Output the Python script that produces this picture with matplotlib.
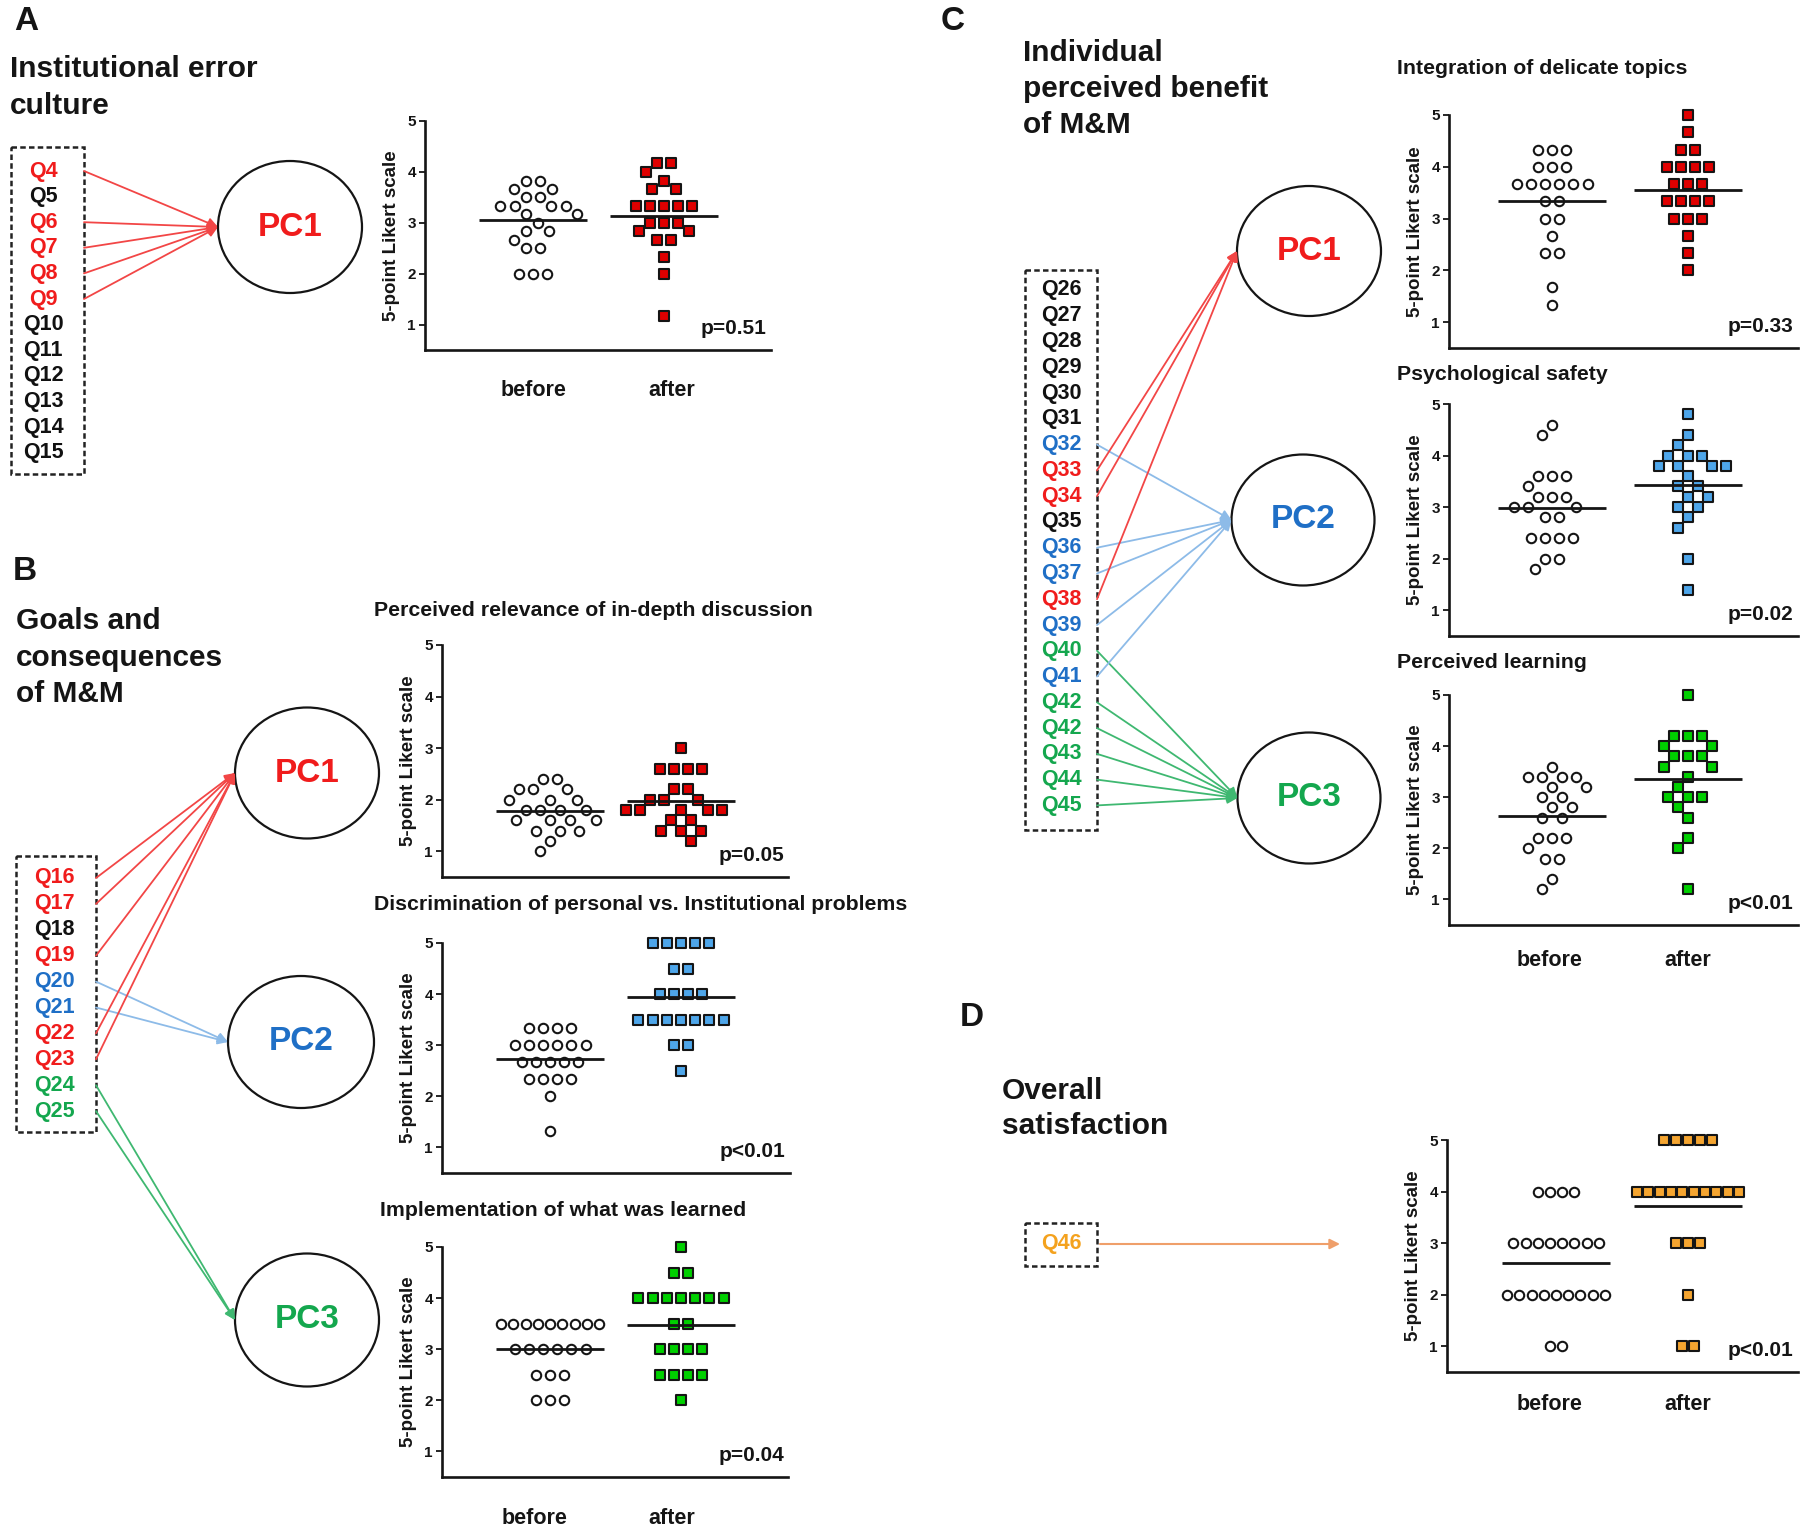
import matplotlib
matplotlib.use('Agg')
import matplotlib.pyplot as plt
from matplotlib.patches import Ellipse, Rectangle
import numpy as np

plt.rcParams['font.family'] = ['Liberation Sans', 'DejaVu Sans']
plt.rcParams['font.weight'] = 'bold'

# ---------------- data ----------------
A_before = [3.83, 3.83, 3.67, 3.67, 3.5, 3.5, 3.33, 3.33, 3.33, 3.33, 3.17, 3.17,
            3.0, 2.83, 2.83, 2.67, 2.5, 2.5, 2.0, 2.0, 2.0]
A_after = [4.17, 4.17, 4.0, 3.83, 3.67, 3.67, 3.33, 3.33, 3.33, 3.33, 3.33, 3.0,
           3.0, 3.0, 2.83, 2.83, 2.67, 2.67, 2.33, 2.0, 1.17]
B1_before = [2.4, 2.4, 2.2, 2.2, 2.2, 2.0, 2.0, 2.0, 1.8, 1.8, 1.8, 1.8, 1.6, 1.6,
             1.6, 1.6, 1.4, 1.4, 1.4, 1.2, 1.0]
B1_after = [3.0, 2.6, 2.6, 2.6, 2.6, 2.2, 2.2, 2.0, 2.0, 2.0, 1.8, 1.8, 1.8, 1.8,
            1.8, 1.6, 1.6, 1.4, 1.4, 1.4, 1.2]
B2_before = [3.33, 3.33, 3.33, 3.33, 3.0, 3.0, 3.0, 3.0, 3.0, 3.0, 2.67, 2.67, 2.67,
             2.67, 2.67, 2.33, 2.33, 2.33, 2.33, 2.0, 1.33]
B2_after = [5.0, 5.0, 5.0, 5.0, 5.0, 4.5, 4.5, 4.0, 4.0, 4.0, 4.0, 3.5, 3.5, 3.5,
            3.5, 3.5, 3.5, 3.5, 3.0, 3.0, 2.5]
B3_before = [3.5, 3.5, 3.5, 3.5, 3.5, 3.5, 3.5, 3.5, 3.5, 3.0, 3.0, 3.0, 3.0, 3.0,
             3.0, 2.5, 2.5, 2.5, 2.0, 2.0, 2.0]
B3_after = [5.0, 4.5, 4.5, 4.0, 4.0, 4.0, 4.0, 4.0, 4.0, 4.0, 3.5, 3.5, 3.0, 3.0,
            3.0, 3.0, 2.5, 2.5, 2.5, 2.5, 2.0]
C1_before = [4.33, 4.33, 4.33, 4.0, 4.0, 4.0, 3.67, 3.67, 3.67, 3.67, 3.67, 3.67,
             3.33, 3.33, 3.0, 3.0, 2.67, 2.33, 2.33, 1.67, 1.33]
C1_after = [5.0, 4.67, 4.33, 4.33, 4.0, 4.0, 4.0, 4.0, 3.67, 3.67, 3.67, 3.33, 3.33,
            3.33, 3.33, 3.0, 3.0, 3.0, 2.67, 2.33, 2.0]
C2_before = [4.6, 4.4, 3.6, 3.6, 3.6, 3.4, 3.2, 3.2, 3.2, 3.0, 3.0, 3.0, 2.8, 2.8,
             2.4, 2.4, 2.4, 2.4, 2.0, 2.0, 1.8]
C2_after = [4.8, 4.4, 4.2, 4.0, 4.0, 4.0, 3.8, 3.8, 3.8, 3.8, 3.6, 3.4, 3.4, 3.2,
            3.2, 3.0, 3.0, 2.8, 2.6, 2.0, 1.4]
C3_before = [3.6, 3.4, 3.4, 3.4, 3.4, 3.2, 3.2, 3.0, 3.0, 2.8, 2.8, 2.6, 2.6, 2.2,
             2.2, 2.2, 2.0, 1.8, 1.8, 1.4, 1.2]
C3_after = [5.0, 4.2, 4.2, 4.2, 4.0, 4.0, 3.8, 3.8, 3.8, 3.6, 3.6, 3.4, 3.2, 3.0,
            3.0, 3.0, 2.8, 2.6, 2.2, 2.0, 1.2]
D_before = [4, 4, 4, 4, 3, 3, 3, 3, 3, 3, 3, 3, 2, 2, 2, 2, 2, 2, 2, 2, 2, 1, 1]
D_after = [5, 5, 5, 5, 5, 4, 4, 4, 4, 4, 4, 4, 4, 4, 4, 3, 3, 3, 2, 1, 1]

p_values = {'A': 'p=0.51', 'B1': 'p=0.05', 'B2': 'p<0.01', 'B3': 'p=0.04',
            'C1': 'p=0.33', 'C2': 'p=0.02', 'C3': 'p<0.01', 'D': 'p<0.01'}
group_labels = ['before', 'after']

A_questions = ['Q4', 'Q5', 'Q6', 'Q7', 'Q8', 'Q9', 'Q10', 'Q11', 'Q12', 'Q13', 'Q14', 'Q15']
A_groups = ['PC1', '-', 'PC1', 'PC1', 'PC1', 'PC1', '-', '-', '-', '-', '-', '-']
B_questions = ['Q16', 'Q17', 'Q18', 'Q19', 'Q20', 'Q21', 'Q22', 'Q23', 'Q24', 'Q25']
B_groups = ['PC1', 'PC1', '-', 'PC1', 'PC2', 'PC2', 'PC1', 'PC1', 'PC3', 'PC3']
C_questions = ['Q26', 'Q27', 'Q28', 'Q29', 'Q30', 'Q31', 'Q32', 'Q33', 'Q34', 'Q35',
               'Q36', 'Q37', 'Q38', 'Q39', 'Q40', 'Q41', 'Q42', 'Q42', 'Q43', 'Q44', 'Q45']
C_groups = ['-', '-', '-', '-', '-', '-', 'PC2', 'PC1', 'PC1', '-', 'PC2', 'PC2', 'PC1',
            'PC2', 'PC3', 'PC2', 'PC3', 'PC3', 'PC3', 'PC3', 'PC3']

# ---------------- style ----------------
TXT = {'PC1': '#f01c1c', 'PC2': '#1f6fc6', 'PC3': '#14a74e', '-': '#111111', 'D': '#f4a21e'}
LINE = {'PC1': '#f24646', 'PC2': '#8dbbe8', 'PC3': '#3fb871', 'D': '#ef9f6a'}
FILL = {'PC1': '#e00000', 'PC2': '#4ea6ea', 'PC3': '#00d000', 'D': '#f5a530'}
INK = '#151515'

W, H = 1800, 1535
fig = plt.figure(figsize=(W / 100, H / 100), dpi=100)
ov = fig.add_axes([0, 0, 1, 1])
ov.set_xlim(0, W)
ov.set_ylim(H, 0)
ov.axis('off')


def qbox(x0, y0, x1, y1):
    ov.add_patch(Rectangle((x0, y0), x1 - x0, y1 - y0, fill=False, lw=1.8,
                           ls=(0, (2.2, 1.3)), edgecolor='#222222'))


def pc_ellipse(cx, cy, name, w=144, h=131):
    ov.add_patch(Ellipse((cx, cy), w, h, fill=False, lw=1.6, edgecolor=INK))
    ov.text(cx, cy, name, ha='center', va='center', fontsize=24, color=TXT[name],
            fontweight='bold')
    return (cx - w / 2, cy)


def arrow(p0, p1, color, lw=1.3):
    ov.annotate('', xy=p1, xytext=p0,
                arrowprops=dict(arrowstyle='-|>', color=color, lw=lw,
                                mutation_scale=15, shrinkA=0, shrinkB=0))


def question_list(qs, groups, xc, y0, step, box_right, targets):
    for i, (q, g) in enumerate(zip(qs, groups)):
        y = y0 + i * step
        ov.text(xc, y, q, ha='center', va='center', fontsize=15.5, color=TXT[g],
                fontweight='bold')
        if g in targets:
            arrow((box_right, y), targets[g], LINE[g])


def title(x, ys, lines, size=21.5):
    for y, t in zip(ys, lines):
        ov.text(x, y, t, ha='left', va='center', fontsize=size, fontweight='bold',
                color=INK)


def subtitle(x, y, t):
    ov.text(x, y, t, ha='left', va='center', fontsize=15.3, fontweight='bold', color=INK)


def swarm(vals, ppu_y, d=14.2, s=14.2, cap=98.0):
    vals = np.asarray(vals, float)
    offs = np.zeros(len(vals))
    placed = []
    for v in sorted(set(vals.tolist()), reverse=True):
        idx = np.flatnonzero(vals == v)
        n = len(idx)
        srow = s if n < 2 else min(s, cap / (n - 1))
        targets = sorted([(i - (n - 1) / 2) * srow for i in range(n)],
                         key=lambda t: (abs(t), t))
        y = v * ppu_y
        for k, t in zip(idx, targets):
            ivs = []
            for py, px, pv in placed:
                if pv == v:
                    w = srow - 1e-6
                else:
                    dy = abs(py - y)
                    if dy >= d:
                        continue
                    w = np.sqrt(d * d - dy * dy)
                ivs.append((px - w, px + w))
            cands = [t] + [a for a, b in ivs] + [b for a, b in ivs]
            ok = [c for c in cands
                  if all(not (a + 1e-6 < c < b - 1e-6) for a, b in ivs)]
            x = min(ok, key=lambda c: (abs(c - t), abs(c)))
            placed.append((y, x, v))
            offs[k] = x
    return offs


def scatter_panel(box, before, after, key, pval, label_pos=None, sp=14.2, cap=98.0):
    sx, rx, y5, by, bcx, acx = box
    ax = fig.add_axes([sx / W, 1 - by / H, (rx - sx) / W, (by - y5) / H])
    ppu_x = acx - bcx
    ax.set_xlim(1 - (bcx - sx) / ppu_x, 2 + (rx - acx) / ppu_x)
    ax.set_ylim(0.5, 5)
    ppu_y = (by - y5) / 4.5
    for pos, vals, mk, fc in [(1, before, 'o', 'white'), (2, after, 's', FILL[key])]:
        off = swarm(vals, ppu_y, d=sp, s=sp, cap=cap)
        ax.scatter(pos + off / ppu_x, vals, s=46, marker=mk, facecolor=fc,
                   edgecolor=INK, linewidths=1.5, clip_on=False, zorder=2)
        m = np.mean(vals)
        ax.hlines(m, pos - 54 / ppu_x, pos + 54 / ppu_x, color=INK, lw=2.0, zorder=3)
    for s in ['top', 'right']:
        ax.spines[s].set_visible(False)
    for s in ['left', 'bottom']:
        ax.spines[s].set_linewidth(1.9)
        ax.spines[s].set_color(INK)
    ax.set_yticks([1, 2, 3, 4, 5])
    ax.tick_params(axis='y', length=4, width=1.3, pad=2.5, labelsize=11, colors=INK)
    ax.set_xticks([])
    for lab in ax.get_yticklabels():
        lab.set_fontweight('bold')
    if label_pos is not None:
        (bx, ax_x), ly = label_pos
        for x, t in zip((bx, ax_x), group_labels):
            ov.text(x, ly, t, ha='center', va='center', fontsize=15.5,
                    fontweight='bold', color=INK)
    ax.set_ylabel('5-point Likert scale', fontsize=13.5, fontweight='bold', color=INK)
    ax.yaxis.set_label_coords(-25 / (rx - sx), 0.5)
    ax.text(0.988, 0.92, pval, transform=ax.get_yaxis_transform(), ha='right',
            va='center', fontsize=15, fontweight='bold', color=INK)
    return ax


# ---------------- panel letters ----------------
for lx, ly, L in [(26, 22, 'A'), (25, 571, 'B'), (953, 21, 'C'), (972, 1017, 'D')]:
    ov.text(lx, ly, L, ha='center', va='center', fontsize=24, fontweight='bold', color=INK)

# ---------------- panel A ----------------
title(10, [69, 106], ['Institutional error', 'culture'])
qbox(11, 147, 84, 474)
tA = {'PC1': pc_ellipse(290, 227, 'PC1', 144, 132)}
question_list(A_questions, A_groups, 43, 171, 25.6, 84, tA)
scatter_panel((425, 771, 121, 350, 533, 664), A_before, A_after, 'PC1', p_values['A'],
              label_pos=((534, 672), 391))

# ---------------- panel B ----------------
title(16, [621, 658, 694], ['Goals and', 'consequences', 'of M&M'])
qbox(16, 856, 96, 1132)
tB = {'PC1': pc_ellipse(307, 773, 'PC1'),
      'PC2': pc_ellipse(301, 1042, 'PC2', 146, 132),
      'PC3': pc_ellipse(307, 1320, 'PC3', 144, 133)}
question_list(B_questions, B_groups, 54, 878, 25.9, 96, tB)
subtitle(374, 610, 'Perceived relevance of in-depth discussion')
scatter_panel((442, 788, 645, 877, 550, 681), B1_before, B1_after, 'PC1', p_values['B1'])
subtitle(374, 905, 'Discrimination of personal vs. Institutional problems')
scatter_panel((442, 790, 943, 1173, 550, 681), B2_before, B2_after, 'PC2', p_values['B2'])
subtitle(380, 1211, 'Implementation of what was learned')
scatter_panel((442, 788, 1247, 1477, 550, 681), B3_before, B3_after, 'PC3', p_values['B3'],
              label_pos=((535, 672), 1518))

# ---------------- panel C ----------------
title(1023, [53, 89, 125], ['Individual', 'perceived benefit', 'of M&M'])
qbox(1025, 270, 1097, 830)
tC = {'PC1': pc_ellipse(1309, 251, 'PC1', 144, 130),
      'PC2': pc_ellipse(1303, 520, 'PC2', 143, 131),
      'PC3': pc_ellipse(1309, 798, 'PC3', 143, 131)}
question_list(C_questions, C_groups, 1061, 290, 25.77, 1097, tC)
subtitle(1397, 68, 'Integration of delicate topics')
scatter_panel((1449, 1798, 115, 348, 1552, 1688), C1_before, C1_after, 'PC1', p_values['C1'])
subtitle(1397, 375, 'Psychological safety')
scatter_panel((1449, 1798, 404, 636, 1552, 1688), C2_before, C2_after, 'PC2', p_values['C2'])
subtitle(1397, 662, 'Perceived learning')
scatter_panel((1449, 1798, 695, 925, 1552, 1688), C3_before, C3_after, 'PC3', p_values['C3'],
              label_pos=((1550, 1688), 960))

# ---------------- panel D ----------------
title(1002, [1091, 1126], ['Overall', 'satisfaction'])
qbox(1025, 1223, 1097, 1266)
ov.text(1061, 1244, 'Q46', ha='center', va='center', fontsize=15.5, color=TXT['D'],
        fontweight='bold')
arrow((1100, 1244), (1340, 1244), LINE['D'], lw=1.5)
scatter_panel((1447, 1798, 1140, 1372, 1556, 1688), D_before, D_after, 'D', p_values['D'],
              label_pos=((1550, 1688), 1405), sp=12.2, cap=102.0)

fig.savefig('out.png', dpi=100)
